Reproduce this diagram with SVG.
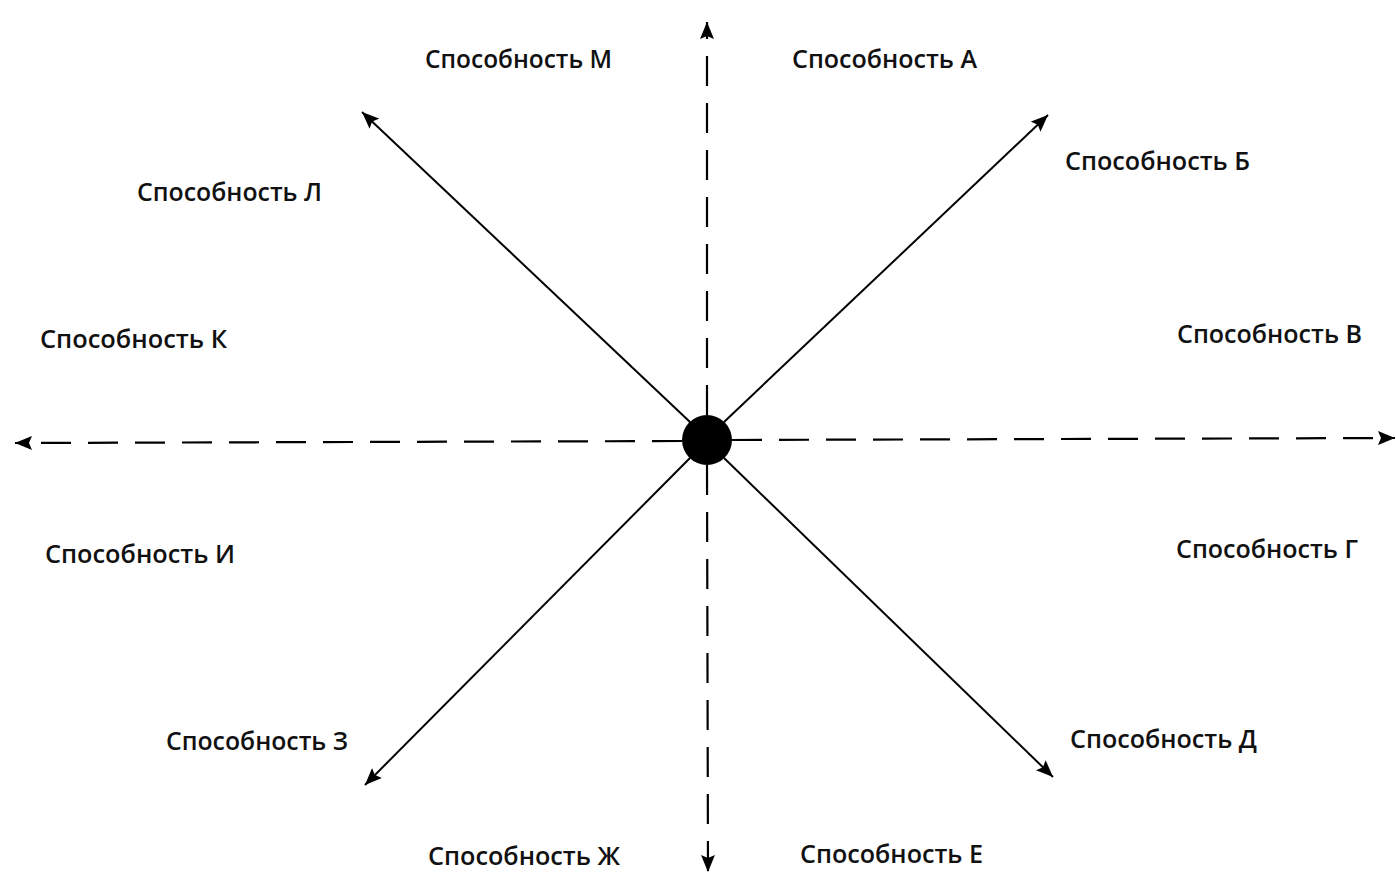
<svg xmlns="http://www.w3.org/2000/svg" width="1396" height="875" viewBox="0 0 1396 875">
  <style>
    .axis { stroke: #000; stroke-width: 2.2; fill: none; stroke-dasharray: 30 17; }
    .ray { stroke: #000; stroke-width: 2; fill: none; }
    .lbl { font-family: "Open Sans", "Liberation Sans", sans-serif; font-weight: 600; font-size: 26px; fill: #111; }
  </style>
  <defs>
    <!-- filled triangular arrowhead; tip sits exactly at the line end -->
    <marker id="arrow" viewBox="0 0 17 14" refX="17" refY="7" markerWidth="17" markerHeight="14" markerUnits="userSpaceOnUse" orient="auto">
      <path d="M0,0 L17,7 L0,14 L3,7 z" fill="#000"/>
    </marker>
  </defs>
  <rect width="1396" height="875" fill="#fff"/>

  <g id="connectors">
    <!-- dashed axes -->
    <line class="axis" x1="707" y1="415" x2="707" y2="22" marker-end="url(#arrow)"/>
    <line class="axis" x1="707" y1="465" x2="708" y2="872" marker-end="url(#arrow)"/>
    <line class="axis" x1="732" y1="440" x2="1395" y2="438" marker-end="url(#arrow)"/>
    <line class="axis" x1="682" y1="441" x2="15" y2="443" marker-end="url(#arrow)"/>
    <!-- diagonal rays -->
    <line class="ray" x1="690" y1="422" x2="362" y2="112" marker-end="url(#arrow)"/>
    <line class="ray" x1="724" y1="422" x2="1048" y2="115" marker-end="url(#arrow)"/>
    <line class="ray" x1="690" y1="458" x2="365" y2="785" marker-end="url(#arrow)"/>
    <line class="ray" x1="724" y1="458" x2="1053" y2="777" marker-end="url(#arrow)"/>
  </g>

  <g id="center">
    <circle cx="707" cy="440" r="25" fill="#000"/>
  </g>

  <g id="label-M"><text class="lbl" x="425" y="68" textLength="187" lengthAdjust="spacingAndGlyphs">Способность М</text></g>
  <g id="label-A"><text class="lbl" x="792" y="68" textLength="185" lengthAdjust="spacingAndGlyphs">Способность А</text></g>
  <g id="label-B"><text class="lbl" x="1065" y="170" textLength="185" lengthAdjust="spacingAndGlyphs">Способность Б</text></g>
  <g id="label-L"><text class="lbl" x="137" y="201" textLength="185" lengthAdjust="spacingAndGlyphs">Способность Л</text></g>
  <g id="label-K"><text class="lbl" x="40" y="348" textLength="187" lengthAdjust="spacingAndGlyphs">Способность К</text></g>
  <g id="label-V"><text class="lbl" x="1177" y="343" textLength="185" lengthAdjust="spacingAndGlyphs">Способность В</text></g>
  <g id="label-I"><text class="lbl" x="45" y="563" textLength="190" lengthAdjust="spacingAndGlyphs">Способность И</text></g>
  <g id="label-G"><text class="lbl" x="1176" y="558" textLength="182" lengthAdjust="spacingAndGlyphs">Способность Г</text></g>
  <g id="label-Z"><text class="lbl" x="166" y="750" textLength="182" lengthAdjust="spacingAndGlyphs">Способность З</text></g>
  <g id="label-D"><text class="lbl" x="1070" y="748" textLength="187" lengthAdjust="spacingAndGlyphs">Способность Д</text></g>
  <g id="label-Zh"><text class="lbl" x="428" y="865" textLength="192" lengthAdjust="spacingAndGlyphs">Способность Ж</text></g>
  <g id="label-E"><text class="lbl" x="800" y="863" textLength="183" lengthAdjust="spacingAndGlyphs">Способность Е</text></g>
</svg>
